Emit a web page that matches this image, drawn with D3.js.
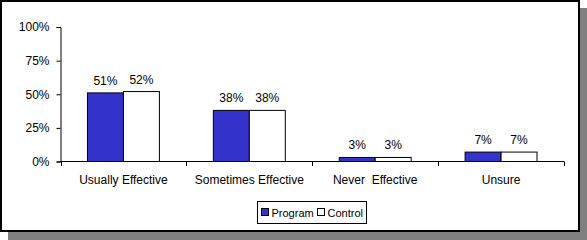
<!DOCTYPE html>
<html>
<head>
<meta charset="utf-8">
<script src="https://cdn.jsdelivr.net/npm/d3@7"></script>
<style>
  body { margin: 0; background: #fff; }
  text { font-family: "Liberation Sans", Arial, sans-serif; fill: #000; }
</style>
</head>
<body>
<div id="chart"></div>
<script>
// chart data
var categories = ["Usually Effective", "Sometimes Effective", "Never  Effective", "Unsure"];
var series = ["Program", "Control"];
var programValues = [0.51, 0.38, 0.03, 0.07];
var controlValues = [0.52, 0.38, 0.03, 0.07];
var yTicks = [0, 0.25, 0.5, 0.75, 1];
var colors = ["#3333cc", "#ffffff"];

const drawChart = (selector) => {
  var W = 587, H = 240;

  var svg = d3.select(selector).append("svg")
    .attr("width", W)
    .attr("height", H);

  // drop shadow + frame
  svg.append("rect")
    .attr("x", 8).attr("y", 8)
    .attr("width", W - 8).attr("height", H - 8)
    .attr("fill", "#808080");
  svg.append("rect")
    .attr("x", 1).attr("y", 1)
    .attr("width", 578).attr("height", 230)
    .attr("fill", "#fff")
    .attr("stroke", "#000")
    .attr("stroke-width", 2);

  var rows = categories.map(function(c, i) {
    return { cat: c, vals: [programValues[i], controlValues[i]] };
  });

  // scales
  var x0 = d3.scaleBand().domain(categories).range([60.5, 564]).padding(0);
  var x1 = d3.scaleBand().domain(series).range([0, x0.bandwidth()])
    .paddingInner(0).paddingOuter(0.75);
  var y = d3.scaleLinear().domain([0, 1]).range([161.5, 27]);

  // bars
  var groups = svg.selectAll(".grp")
    .data(rows)
    .enter().append("g")
    .attr("class", "grp")
    .attr("transform", function(d) { return "translate(" + x0(d.cat) + ",0)"; });

  groups.selectAll("rect")
    .data(function(d) { return d.vals.map(function(v, j) { return { s: series[j], v: v, j: j }; }); })
    .enter().append("rect")
    .attr("x", function(d) { return x1(d.s); })
    .attr("width", x1.bandwidth())
    .attr("y", function(d) { return y(d.v); })
    .attr("height", function(d) { return y(0) - y(d.v); })
    .attr("fill", function(d) { return colors[d.j]; })
    .attr("stroke", "#000")
    .attr("stroke-width", 1);

  // value labels
  groups.selectAll(".lbl")
    .data(function(d) { return d.vals.map(function(v, j) { return { s: series[j], v: v }; }); })
    .enter().append("text")
    .attr("class", "lbl")
    .attr("text-anchor", "middle")
    .attr("x", function(d) { return x1(d.s) + x1.bandwidth() / 2; })
    .attr("y", function(d) { return y(d.v) - 8; })
    .style("font-size", "12px")
    .text(function(d) { return Math.round(d.v * 100) + "%"; });

  // y axis
  var yAxis = svg.append("g")
    .attr("transform", "translate(60.5,0)")
    .call(d3.axisLeft(y).tickValues(yTicks).tickSize(4).tickPadding(7)
      .tickFormat(d3.format(".0%")));
  yAxis.select(".domain").attr("stroke", "#000");
  yAxis.selectAll("text").style("font-size", "12px").attr("font-family", null);

  // x axis
  var xAxis = svg.append("g")
    .attr("transform", "translate(0,161.5)")
    .call(d3.axisBottom(x0).tickSize(0).tickPadding(14));
  xAxis.select(".domain").remove();
  xAxis.selectAll("text").style("font-size", "12px").style("white-space", "pre")
    .attr("font-family", null);
  svg.append("line")
    .attr("x1", 60.5).attr("x2", 564)
    .attr("y1", 161.5).attr("y2", 161.5)
    .attr("stroke", "#000");
  // category separator ticks
  var edges = categories.map(function(c) { return x0(c); }).concat([x0.range()[1]]);
  svg.selectAll(".ctick")
    .data(edges)
    .enter().append("line")
    .attr("class", "ctick")
    .attr("x1", function(d) { return Math.round(d) + 0.5; })
    .attr("x2", function(d) { return Math.round(d) + 0.5; })
    .attr("y1", 161.5).attr("y2", 166)
    .attr("stroke", "#000");

  // legend
  var lg = svg.append("g").attr("transform", "translate(257.5,201.5)");
  lg.append("rect")
    .attr("width", 109).attr("height", 22)
    .attr("fill", "#fff").attr("stroke", "#000");
  var lx = [4, 60];
  series.forEach(function(s, j) {
    lg.append("rect")
      .attr("x", lx[j]).attr("y", 7)
      .attr("width", 7).attr("height", 7)
      .attr("fill", colors[j]).attr("stroke", "#000");
    lg.append("text")
      .attr("x", lx[j] + 10).attr("y", 15)
      .style("font-size", "11px")
      .text(s);
  });
};

drawChart("#chart");
</script>
</body>
</html>
